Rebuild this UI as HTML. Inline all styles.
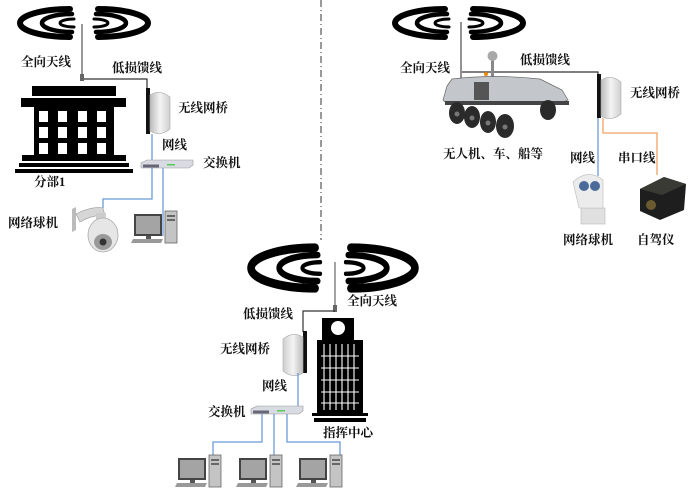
<!DOCTYPE html>
<html><head><meta charset="utf-8"><style>
html,body{margin:0;padding:0;background:#fff;overflow:hidden;}
svg{display:block;}
text{font-family:"Liberation Serif","Noto Serif CJK SC",serif;font-weight:bold;font-size:12.5px;fill:#111;}
</style></head><body>
<svg width="700" height="489" viewBox="0 0 700 489" xmlns="http://www.w3.org/2000/svg">
<defs>
<g id="wifi" fill="none" stroke="#000" stroke-linecap="round">
 <path d="M-14 -14 A50 14 0 0 0 -14 14" stroke-width="6"/>
 <path d="M-12 -9 A30 9 0 0 0 -12 9" stroke-width="4.5"/>
 <path d="M-10 -4 A14 4 0 0 0 -10 4" stroke-width="3"/>
 <g transform="scale(-1,1)">
 <path d="M-14 -14 A50 14 0 0 0 -14 14" stroke-width="6"/>
 <path d="M-12 -9 A30 9 0 0 0 -12 9" stroke-width="4.5"/>
 <path d="M-10 -4 A14 4 0 0 0 -10 4" stroke-width="3"/>
 </g>
</g>
<linearGradient id="bg" x1="0" x2="1"><stop offset="0" stop-color="#bbb"/><stop offset="0.5" stop-color="#f4f4f4"/><stop offset="1" stop-color="#cfcfcf"/></linearGradient>
<g id="panel">
 <path d="M0 4 Q10 -2 20 6 L20 38 Q10 46 0 40 Z" fill="url(#bg)" stroke="#aaa" stroke-width="0.6"/>
</g>
<g id="switch">
 <path d="M0 3 L6 0 L52 0 L52 5 L48 8 L0 8 Z" fill="#d8dbe2" stroke="#999" stroke-width="0.6"/>
 <rect x="2" y="4.5" width="16" height="3" fill="#667"/>
 <rect x="26" y="4" width="8" height="1.5" fill="#5c5"/>
</g>
<g id="pc">
 <rect x="0" y="0" width="28" height="22" fill="#444"/>
 <rect x="2" y="2" width="24" height="18" fill="#a4a4a4"/>
 <rect x="12" y="22" width="5" height="3" fill="#555"/>
 <path d="M-1 25 L29 25 L27 29 L-3 29 Z" fill="#999"/>
 <rect x="31" y="-3" width="12" height="32" fill="#c4c4c4" stroke="#666" stroke-width="0.8"/>
 <rect x="33" y="1" width="8" height="2" fill="#666"/><rect x="33" y="5" width="8" height="2" fill="#666"/>
</g>
</defs>

<line x1="321" y1="0" x2="321" y2="240" stroke="#333" stroke-width="1" stroke-dasharray="7,3,1,3"/>

<!-- LEFT GROUP -->
<use href="#wifi" transform="translate(84,23)"/>
<line x1="82" y1="24" x2="82" y2="80" stroke="#555" stroke-width="1.2"/>
<rect x="80" y="74" width="4" height="7" fill="#666"/>
<polyline points="84,79 147,79 147,90" fill="none" stroke="#333" stroke-width="1.2"/>
<text x="21" y="66">全向天线</text>
<text x="112" y="72">低损馈线</text>
<rect x="32" y="86" width="84" height="10" fill="#000"/>
<rect x="21" y="98" width="105" height="9" fill="#000"/>
<rect x="28" y="107" width="92" height="48" fill="#000"/>
<g fill="#fff">
 <rect x="39" y="111" width="9" height="11"/><rect x="58" y="111" width="9" height="11"/><rect x="78" y="111" width="9" height="11"/><rect x="97" y="111" width="9" height="11"/>
 <rect x="39" y="127" width="9" height="11"/><rect x="58" y="127" width="9" height="11"/><rect x="78" y="127" width="9" height="11"/><rect x="97" y="127" width="9" height="11"/>
 <rect x="39" y="143" width="9" height="11"/><rect x="58" y="143" width="9" height="11"/><rect x="78" y="143" width="9" height="11"/><rect x="97" y="143" width="9" height="11"/>
 <rect x="28" y="107" width="6" height="48"/><rect x="114" y="107" width="6" height="48"/>
</g>
<rect x="22" y="155" width="104" height="6" fill="#000"/>
<rect x="19" y="163" width="110" height="4" fill="#000"/>
<rect x="15" y="169" width="118" height="4" fill="#000"/>
<text x="34" y="186">分部1</text>
<rect x="146" y="88" width="4" height="46" fill="#111"/>
<use href="#panel" transform="translate(150,91)"/>
<text x="178" y="112">无线网桥</text>
<text x="162" y="149">网线</text>
<line x1="152" y1="134" x2="152" y2="160" stroke="#6a9bd8" stroke-width="1.3"/>
<use href="#switch" transform="translate(141,160)"/>
<text x="203" y="167">交换机</text>
<polyline points="152,168 152,199 103,199 103,208" fill="none" stroke="#6a9bd8" stroke-width="1.3"/>
<polyline points="163,168 163,236" fill="none" stroke="#6a9bd8" stroke-width="1.3"/>
<text x="8" y="227">网络球机</text>
<path d="M72 209 L76 207 L76 230 L72 232 Z" fill="#bbb"/>
<path d="M76 214 Q92 206 103 208 L105 216 Q94 214 80 222 Z" fill="#d6d6d6" stroke="#999" stroke-width="0.6"/>
<rect x="96" y="213" width="10" height="6" fill="#ccc"/>
<ellipse cx="103" cy="235" rx="15" ry="17" fill="#e6e6e6" stroke="#aaa" stroke-width="0.8"/>
<ellipse cx="103" cy="242" rx="9" ry="8" fill="#999"/>
<circle cx="103" cy="242" r="3.5" fill="#333"/>
<use href="#pc" transform="translate(134,214)"/>

<!-- RIGHT GROUP -->
<use href="#wifi" transform="translate(459,23)"/>
<line x1="461" y1="22" x2="461" y2="82" stroke="#777" stroke-width="1.6"/>
<polyline points="462,72 598,72 598,76" fill="none" stroke="#333" stroke-width="1.2"/>
<text x="400" y="72">全向天线</text>
<text x="520" y="64">低损馈线</text>
<rect x="491" y="58" width="3" height="20" fill="#888"/>
<circle cx="492.5" cy="56" r="5" fill="#a8a8a8"/>
<circle cx="486" cy="74" r="2" fill="#e80"/>
<path d="M447 86 L452 79 Q495 74 540 79 L562 90 L568 100 L558 104 L447 104 L443 100 Z" fill="#c3c6ca" stroke="#666" stroke-width="0.7"/>
<rect x="474" y="82" width="15" height="18" fill="#555"/>
<rect x="445" y="101" width="124" height="4" fill="#444"/>
<g fill="#2a2a2a">
 <ellipse cx="457" cy="113" rx="8" ry="11"/>
 <ellipse cx="472" cy="117" rx="8" ry="11"/>
 <ellipse cx="488" cy="122" rx="8" ry="11"/>
 <ellipse cx="505" cy="126" rx="9" ry="12"/>
 <ellipse cx="548" cy="110" rx="8" ry="10"/>
</g>
<g fill="#777"><circle cx="457" cy="114" r="2.5"/><circle cx="472" cy="118" r="2.5"/><circle cx="488" cy="123" r="2.5"/><circle cx="505" cy="127" r="2.5"/></g>
<text x="443" y="158">无人机、车、船等</text>
<rect x="597" y="74" width="4" height="44" fill="#111"/>
<use href="#panel" transform="translate(601,76)"/>
<text x="630" y="97">无线网桥</text>
<line x1="598" y1="118" x2="598" y2="176" stroke="#6a9bd8" stroke-width="1.3"/>
<polyline points="603,118 603,133 657,133 657,175" fill="none" stroke="#f0a060" stroke-width="1.3"/>
<text x="570" y="162">网线</text>
<text x="618" y="162">串口线</text>
<rect x="581" y="208" width="24" height="16" fill="#e0e0e0" stroke="#bbb" stroke-width="0.6"/>
<path d="M573 182 Q588 168 603 180 L603 208 L579 208 Z" fill="#ececec" stroke="#bbb" stroke-width="0.6"/>
<circle cx="584" cy="186" r="5" fill="#4a6a9a"/><circle cx="595" cy="186" r="5" fill="#4a6a9a"/>
<path d="M640 189 L664 177 L686 184 L684 210 L660 220 L640 211 Z" fill="#1e1e1e"/>
<path d="M640 189 L664 177 L686 184 L662 195 Z" fill="#3a3a34"/>
<circle cx="651" cy="205" r="5" fill="#6a5a30"/>
<text x="563" y="244">网络球机</text>
<text x="637" y="244">自驾仪</text>

<!-- BOTTOM GROUP -->
<use href="#wifi" transform="translate(333,268) scale(1.28,1.45)"/>
<line x1="335" y1="262" x2="335" y2="312" stroke="#666" stroke-width="1.2"/>
<rect x="333" y="305" width="4" height="7" fill="#666"/>
<polyline points="335,311 303,311 303,332" fill="none" stroke="#333" stroke-width="1.2"/>
<text x="347" y="305">全向天线</text>
<text x="243" y="318">低损馈线</text>
<rect x="322" y="318" width="32" height="22" fill="#000"/>
<circle cx="338" cy="328" r="7" fill="#fff"/>
<rect x="317" y="340" width="46" height="73" fill="#000"/>
<g stroke="#fff" stroke-width="1.1">
 <line x1="324" y1="344" x2="324" y2="410"/><line x1="330" y1="344" x2="330" y2="410"/><line x1="336" y1="344" x2="336" y2="410"/><line x1="342" y1="344" x2="342" y2="410"/><line x1="348" y1="344" x2="348" y2="410"/><line x1="354" y1="344" x2="354" y2="410"/>
 <line x1="321" y1="356" x2="359" y2="356"/><line x1="321" y1="368" x2="359" y2="368"/><line x1="321" y1="380" x2="359" y2="380"/><line x1="321" y1="392" x2="359" y2="392"/><line x1="321" y1="403" x2="359" y2="403"/>
</g>
<rect x="312" y="413" width="56" height="3" fill="#000"/>
<rect x="314" y="418" width="52" height="4" fill="#000"/>
<rect x="303" y="331" width="4" height="42" fill="#111"/>
<g transform="translate(303,333) scale(-1,1)"><use href="#panel"/></g>
<text x="220" y="353">无线网桥</text>
<line x1="298" y1="373" x2="298" y2="406" stroke="#6a9bd8" stroke-width="1.3"/>
<text x="262" y="390">网线</text>
<use href="#switch" transform="translate(251,406)"/>
<text x="208" y="416">交换机</text>
<text x="323" y="437">指挥中心</text>
<polyline points="262,414 262,442 213,442 213,472" fill="none" stroke="#6a9bd8" stroke-width="1.3"/>
<polyline points="274,414 274,476" fill="none" stroke="#6a9bd8" stroke-width="1.3"/>
<polyline points="287,414 287,442 340,442 340,476" fill="none" stroke="#6a9bd8" stroke-width="1.3"/>
<use href="#pc" transform="translate(178,458)"/>
<use href="#pc" transform="translate(239,458)"/>
<use href="#pc" transform="translate(299,458)"/>
</svg>
</body></html>
